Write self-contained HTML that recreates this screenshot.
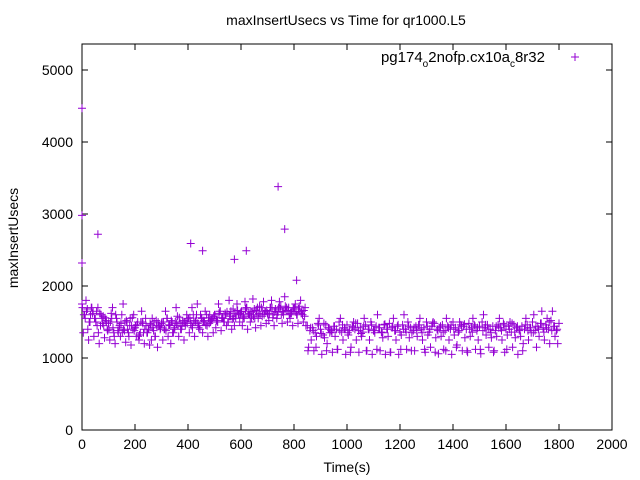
<!DOCTYPE html>
<html><head><meta charset="utf-8"><style>
body{margin:0;background:#fff;}
svg{display:block;font-family:"Liberation Sans",sans-serif;}
</style></head><body>
<svg id="chart" width="640" height="480" viewBox="0 0 640 480">
<rect width="640" height="480" fill="#fff"/>
<text x="346" y="25" font-size="14" text-anchor="middle">maxInsertUsecs vs Time for qr1000.L5</text>
<text transform="translate(18,238) rotate(-90)" font-size="14" text-anchor="middle">maxInsertUsecs</text>
<text x="347" y="472" font-size="14" text-anchor="middle">Time(s)</text>
<g id="axes"></g>
<g id="marks"></g>
<g>
<text x="545" y="62" font-size="15" text-anchor="end">pg174<tspan font-size="10" dy="5">o</tspan><tspan dy="-5">2nofp.cx10a</tspan><tspan font-size="10" dy="5">c</tspan><tspan dy="-5">8r32</tspan></text>
<path d="M571 57h8M575 53v8" stroke="#9400d3" stroke-width="1"/>
</g>
</svg>
<script>
const xTicks=[0,200,400,600,800,1000,1200,1400,1600,1800,2000];
const yTicks=[0,1000,2000,3000,4000,5000];
const seriesA=[1750,1600,1680,1500,1620,1550,1700,1450,1580,1520,
1480,1620,1350,1550,1420,1600,1380,1500,1450,1560,
1420,1500,1350,1480,1550,1400,1460,1380,1520,1440,
1480,1400,1550,1460,1500,1420,1580,1480,1520,1450,
1550,1480,1600,1500,1420,1560,1520,1600,1480,1540,
1600,1520,1650,1560,1620,1500,1580,1680,1550,1600,
1640,1580,1700,1620,1560,1680,1600,1720,1580,1650,
1620,1700,1560,1680,1640,1720,1600,1660,1700,1620,
1680,1600,1720,1650,1580,
1450,1380,1420,1350,1480,1400,1320,1460,1420,1380,
1440,1400,1500,1360,1420,1460,1380,1440,1400,1480,
1420,1360,1460,1400,1500,1380,1440,1420,1360,1460,
1400,1480,1420,1380,1440,1360,1460,1400,1500,1420,
1380,1440,1460,1400,1420,1500,1360,1440,1480,1400,
1420,1460,1380,1440,1400,1500,1420,1360,1460,1440,
1400,1480,1420,1460,1380,1440,1500,1420,1460,1400,
1440,1380,1460,1420,1480,1400,1440,1360,1460,1420,
1380,1440,1400,1460,1420,1500,1380,1440,1480,1420,
1460,1400,1520,1440,1380,1480];
const seriesB=[1350,1800,1250,1700,1300,1650,1200,1550,1280,1400,
1250,1700,1200,1380,1300,1750,1220,1350,1180,1600,
1300,1250,1650,1200,1350,1180,1550,1300,1150,1400,
1250,1650,1300,1200,1350,1700,1300,1400,1250,1600,
1350,1700,1300,1750,1400,1350,1650,1300,1500,1350,
1420,1750,1380,1500,1450,1800,1400,1450,1750,1500,
1450,1780,1400,1500,1820,1420,1550,1450,1780,1480,
1520,1800,1450,1550,1780,1480,1850,1500,1550,1450,
1750,1480,1800,1500,1450,
1150,1250,1100,1300,1550,1050,1280,1200,1350,1080,
1300,1120,1550,1250,1050,1320,1150,1500,1250,1080,
1300,1550,1100,1250,1050,1350,1600,1100,1280,1050,
1300,1080,1550,1250,1050,1320,1600,1120,1280,1350,
1100,1300,1550,1250,1080,1320,1150,1500,1280,1060,
1300,1120,1550,1250,1050,1320,1180,1500,1100,1280,
1080,1300,1550,1120,1250,1060,1600,1320,1150,1280,
1100,1300,1550,1250,1080,1320,1500,1150,1280,1050,
1300,1200,1550,1250,1350,1600,1150,1300,1650,1250,
1550,1200,1650,1300,1200];
const seriesC=[1700,1550,1400,1600,1650,1500,1350,1600,1450,
1500,1400,1550,1300,1500,1450,1350,1500,1400,1550,
1400,1450,1300,1500,1350,1450,1400,1250,1500,1450,
1450,1500,1400,1550,1450,1350,1500,1450,1400,1500,
1500,1550,1450,1500,1600,1450,1550,1500,1450,1600,
1550,1600,1500,1650,1550,1600,1500,1650,1550,1600,
1600,1650,1550,1700,1600,1650,1550,1700,1600,1650,
1650,1600,1700,1600,1650,1700,1600,1650,1700,1600,
1650,1700,1600,1650,1600,1700];
const seriesD=[1100,1420,1380,1150,1460,1340,1480,1100,1400,1360,
1440,1120,1380,1460,1400,1350,1080,1420,1480,1380,
1340,1440,1100,1400,1460,1380,1120,1420,1350,1470,
1400,1080,1440,1380,1460,1120,1400,1360,1440,1100,
1420,1380,1460,1350,1120,1440,1400,1480,1080,1380,
1440,1360,1100,1420,1460,1400,1150,1380,1440,1470,
1100,1400,1360,1440,1420,1120,1380,1460,1400,1350,
1080,1440,1420,1380,1460,1120,1400,1480,1360,1440,
1400,1100,1460,1380,1420,1350,1440,1400,1480,1360,
1420,1500,1380,1440,1400];
const seriesE=[1600,1650,1500,1700,1550,1450,1620,1480,1560,
1380,1500,1420,1600,1350,1480,1400,1520,1300,1450,
1380,1460,1320,1500,1400,1350,1480,1420,1300,1500,
1420,1500,1380,1460,1520,1400,1480,1560,1440,1500,
1480,1560,1420,1520,1480,1600,1500,1460,1560,1520,
1580,1520,1620,1560,1500,1640,1580,1540,1620,1660,
1620,1560,1680,1600,1640,1580,1660,1620,1700,1600,
1660,1620,1700,1640,1600,1680,1640,1720,1660,1620,
1700,1640,1680,1620,1660];
const outlierTimes=[0,0,0,60,410,455,575,620,740,765,810];
const outlierValues=[2320,2980,4470,2720,2590,2490,2370,2490,3380,2790,2080];

const X0=82,X1=612,Y0=430,YT=44;
const xs=t=>X0+t*(X1-X0)/2000;
const ys=v=>Y0-v*0.072;
const NS='http://www.w3.org/2000/svg';
const axes=document.getElementById('axes');
const marks=document.getElementById('marks');
function mk(tag,attrs,parent){const e=document.createElementNS(NS,tag);for(const k in attrs)e.setAttribute(k,attrs[k]);parent.appendChild(e);return e;}
const frame=mk('rect',{x:X0,y:YT,width:X1-X0,height:Y0-YT,fill:'none',stroke:'#000','stroke-width':1},axes);


xTicks.forEach(t=>{
  const x=xs(t);
  const tk=mk('path',{d:`M${x} ${Y0}v-6M${x} ${YT}v6`,stroke:'#000'},axes);
  
  
  const l=mk('text',{x:x,y:Y0+19,'font-size':14,'text-anchor':'middle'},axes);
  l.textContent=t;
  
  
});
yTicks.forEach(v=>{
  const y=ys(v);
  const tk=mk('path',{d:`M${X0} ${y}h6M${X1} ${y}h-6`,stroke:'#000'},axes);
  
  
  const l=mk('text',{x:X0-9,y:y+5,'font-size':14,'text-anchor':'end'},axes);
  l.textContent=v;
  
  
});
let d='';
function add(t,v){const x=xs(t),y=ys(v);d+=`M${(x-4).toFixed(1)} ${y.toFixed(1)}h8M${x.toFixed(1)} ${(y-4).toFixed(1)}v8`;}
seriesA.forEach((v,i)=>add(i*10,v));
seriesB.forEach((v,i)=>add(5+i*10,v));
seriesC.forEach((v,i)=>add(2+i*10,v));
seriesD.forEach((v,i)=>add(853+i*10,v));
seriesE.forEach((v,i)=>add(7+i*10,v));
outlierTimes.forEach((t,i)=>add(t,outlierValues[i]));
const p=mk('path',{d:d,stroke:'#9400d3','stroke-width':1,fill:'none'},marks);


</script>
</body></html>
